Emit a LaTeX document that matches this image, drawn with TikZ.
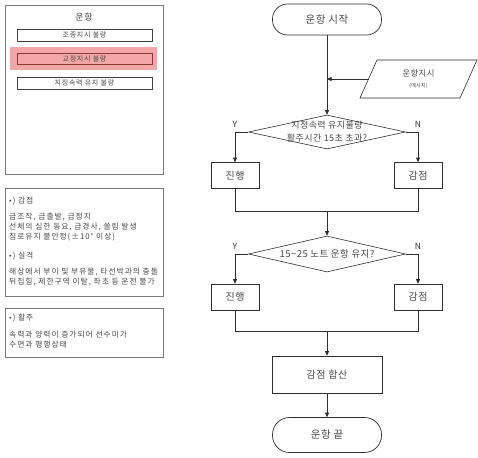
\documentclass[tikz,border=0pt]{standalone}
\usepackage{fontspec}
\setmainfont[LetterSpace=5]{Noto Sans CJK KR}
\newfontfamily\panelfont[LetterSpace=12]{Noto Sans CJK KR}
\newfontfamily\subfont[LetterSpace=10]{Noto Sans CJK KR}
\usetikzlibrary{arrows.meta,shapes.geometric}
\definecolor{txtgray}{HTML}{4A4A4A}
\definecolor{boxgray}{HTML}{7A7A7A}
\definecolor{linegray}{HTML}{2E2E2E}
\definecolor{pinkfill}{HTML}{F4A7A7}
\definecolor{redline}{HTML}{8A3A3A}
\begin{document}
\begin{tikzpicture}[x=1pt,y=-1pt,
  every node/.style={inner sep=0pt, text=txtgray},
  panel/.style={draw=boxgray, line width=0.8pt, minimum width=158pt},
  subbox/.style={draw=black!75, line width=0.6pt, minimum width=135pt, minimum height=12pt, font=\subfont\fontsize{7}{7}\selectfont},
  hd/.style={anchor=west, font=\panelfont\fontsize{7.8}{8}\selectfont},
  bodytxt/.style={anchor=west, font=\panelfont\fontsize{7.8}{8}\selectfont},
  term/.style={draw=linegray, line width=0.7pt, rounded corners=15pt, minimum width=109pt, minimum height=31pt, font=\fontsize{10.5}{12}\selectfont},
  pbox/.style={draw=linegray, line width=0.6pt, minimum width=48pt, minimum height=26pt, font=\fontsize{10}{12}\selectfont},
  dia/.style={diamond, draw=linegray, line width=0.6pt, minimum width=157pt},
  yn/.style={font=\fontsize{8.5}{10}\selectfont, text=linegray},
  flow/.style={draw=linegray, line width=0.7pt},
  arr/.style={-{Triangle[length=4.5pt,width=4pt]}}
]
\useasboundingbox (0,0) rectangle (478,457);
% ---------- left panels ----------
\node[panel, minimum height=169pt] (P1) at (84,89.5) {};
\node[font=\subfont\fontsize{9}{10}\selectfont] (P1t) at (84,17) {운항};
\node[subbox] (s1) at (84.5,35) {조종지시 불량};
\node[fill=pinkfill, minimum width=147pt, minimum height=23pt] (hl) at (83.5,58.5) {};
\node[subbox, draw=redline, minimum height=11pt] (s2) at (84.5,58.5) {교정지시 불량};
\node[subbox] (s3) at (84.5,83) {지정속력 유지 불량};

\node[panel, minimum height=108pt] (P2) at (84,242) {};
\node[hd] (h1) at (9,201) {•) 감점};
\node[bodytxt] (b1) at (9,217) {급조작, 급출발, 급정지};
\node[bodytxt] (b2) at (9,227) {선체의 심한 동요, 급경사, 쏠림 발생};
\node[bodytxt] (b3) at (9,237) {침로유지 불안정(±10° 이상)};
\node[hd] (h2) at (9,256) {•) 실격};
\node[bodytxt] (b4) at (9,272) {해상에서 부이 및 부유물, 타선박과의 충돌};
\node[bodytxt] (b5) at (9,282) {뒤집힘, 제한구역 이탈, 좌초 등 운전 불가};

\node[panel, minimum height=49pt] (P3) at (84,332.5) {};
\node[hd] (h3) at (9,318) {•) 활주};
\node[bodytxt] (b6) at (9,335) {속력과 양력이 증가되어 선수미가};
\node[bodytxt] (b7) at (9,345) {수면과 평행상태};

% ---------- flowchart ----------
\node[term] (st) at (327,19.5) {운항 시작};
\draw[draw=linegray, line width=0.6pt] (360,98) -- (377,60) -- (477,60) -- (460,98) -- cycle;
\coordinate (msgw) at (368.5,79);
\node[font=\fontsize{8.3}{10}\selectfont] (msgt) at (418.5,73) {운항지시};
\node[font=\fontsize{5}{6}\selectfont] (msgs) at (418.5,86) {(메시지)};

\node[dia, minimum height=34pt] (d1) at (327,132) {};
\node[align=center, font=\fontsize{9}{13}\selectfont] (d1t) at (327,131.5) {지정속력 유지불량\\활주시간 15초 초과?};
\node[yn] (y1) at (235,124) {Y};
\node[yn] (n1) at (418,124) {N};
\node[pbox] (p1) at (235,175.5) {진행};
\node[pbox] (m1) at (418,175.5) {감점};
\coordinate (j1) at (327,211);

\node[dia, minimum height=36pt] (d2) at (327,254) {};
\node[font=\fontsize{9.5}{11}\selectfont] (d2t) at (327,253.5) {15\textasciitilde25 노트 운항 유지?};
\node[yn] (y2) at (235,246) {Y};
\node[yn] (n2) at (418,246) {N};
\node[pbox] (p2) at (235,297) {진행};
\node[pbox] (m2) at (418,297) {감점};
\coordinate (j2) at (327,331);

\node[pbox, minimum width=110pt, minimum height=37pt] (sum) at (327,374.5) {감점 합산};
\node[term, minimum height=35pt, rounded corners=17pt] (en) at (327,435) {운항 끝};

% connectors
\draw[flow,arr] (st) -- (d1);
\draw[flow,arr] (msgw) -- (msgw -| st.south);
\draw[flow,arr] (d1.west) -| (p1.north);
\draw[flow,arr] (d1.east) -| (m1.north);
\draw[flow] (p1.south) |- (j1);
\draw[flow] (m1.south) |- (j1);
\draw[flow,arr] (j1) -- (d2.north);
\draw[flow,arr] (d2.west) -| (p2.north);
\draw[flow,arr] (d2.east) -| (m2.north);
\draw[flow] (p2.south) |- (j2);
\draw[flow] (m2.south) |- (j2);
\draw[flow,arr] (j2) -- (sum.north);
\draw[flow,arr] (sum) -- (en);
\end{tikzpicture}
\end{document}
